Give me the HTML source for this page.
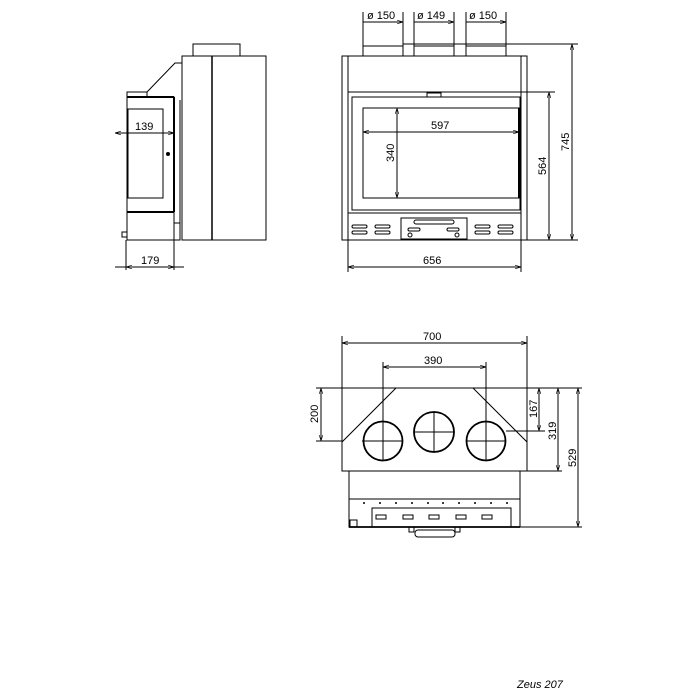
<!DOCTYPE html>
<html><head><style>body{margin:0;background:#fff}svg{display:block}text{font-family:"Liberation Sans Narrow","Liberation Sans",sans-serif;font-size:11px;fill:#000}</style></head><body>
<svg width="700" height="700" viewBox="0 0 700 700" xmlns="http://www.w3.org/2000/svg">
<defs><marker id="a" viewBox="0 0 10 10" refX="10" refY="5" markerWidth="6" markerHeight="6" orient="auto-start-reverse"><path d="M0,2 L10,5 L0,8" fill="none" stroke="#000"/></marker></defs>
<g fill="none" stroke="#000" stroke-width="1">
<!-- side view -->
<rect x="193" y="44" width="47" height="12"/>
<rect x="182" y="56" width="84" height="184"/>
<line x1="212" y1="56" x2="212" y2="240" stroke-width="1.5"/>
<polyline points="147,92 175,63 182,63"/>
<rect x="127" y="92" width="20" height="5"/>
<rect x="127" y="97" width="47" height="115"/>
<line x1="127" y1="97" x2="174" y2="97" stroke-width="2"/>
<line x1="174" y1="97" x2="174" y2="212" stroke-width="2"/>
<line x1="127" y1="212" x2="174" y2="212" stroke-width="2"/>
<rect x="128" y="109" width="35" height="89"/>
<circle cx="168" cy="154" r="1.5" fill="#000"/>
<rect x="127" y="212" width="47" height="28"/>
<line x1="180" y1="100" x2="180" y2="232"/>
<rect x="174" y="223" width="6" height="17"/>
<rect x="122" y="232" width="5" height="5"/>
<line x1="115" y1="133" x2="174" y2="133" marker-start="url(#a)" marker-end="url(#a)"/>
<line x1="126" y1="240" x2="126" y2="270"/><line x1="174" y1="240" x2="174" y2="270"/>
<line x1="115" y1="267" x2="184" y2="267"/>
<line x1="126" y1="267" x2="174" y2="267" marker-start="url(#a)" marker-end="url(#a)"/>
<!-- front view -->
<rect x="342" y="56" width="185" height="184"/>
<line x1="348" y1="56" x2="348" y2="240"/><line x1="521" y1="56" x2="521" y2="240"/>
<line x1="348" y1="92" x2="521" y2="92"/>
<rect x="363" y="46" width="40" height="10"/><rect x="414" y="46" width="40" height="10"/><rect x="466" y="46" width="40" height="10"/>
<line x1="363" y1="12" x2="363" y2="46"/><line x1="403" y1="12" x2="403" y2="46"/>
<line x1="414" y1="12" x2="414" y2="46"/><line x1="454" y1="12" x2="454" y2="46"/>
<line x1="466" y1="12" x2="466" y2="46"/><line x1="506" y1="12" x2="506" y2="46"/>
<line x1="363" y1="22" x2="403" y2="22" marker-end="url(#a)"/>
<line x1="414" y1="22" x2="454" y2="22" marker-end="url(#a)"/>
<line x1="466" y1="22" x2="506" y2="22" marker-end="url(#a)"/>
<rect x="352" y="97" width="168" height="113"/>
<rect x="363" y="108" width="156" height="90"/>
<line x1="519" y1="108" x2="519" y2="198" stroke-width="2"/>
<rect x="427" y="93" width="14" height="4"/>
<line x1="348" y1="213" x2="521" y2="213"/>
<rect x="401" y="218" width="66" height="21"/>
<rect x="414" y="220" width="40" height="4" rx="2"/>
<g>
<rect x="352" y="225" width="15" height="3" rx="1.5"/><rect x="352" y="231" width="15" height="3" rx="1.5"/>
<rect x="375" y="225" width="15" height="3" rx="1.5"/><rect x="375" y="231" width="15" height="3" rx="1.5"/>
<rect x="475" y="225" width="15" height="3" rx="1.5"/><rect x="475" y="231" width="15" height="3" rx="1.5"/>
<rect x="498" y="225" width="15" height="3" rx="1.5"/><rect x="498" y="231" width="15" height="3" rx="1.5"/>
<rect x="408" y="228" width="12" height="3" rx="1.5"/><rect x="447" y="228" width="12" height="3" rx="1.5"/>
<circle cx="410" cy="235" r="2"/><circle cx="457" cy="235" r="2"/>
</g>
<line x1="363" y1="132" x2="519" y2="132" marker-start="url(#a)" marker-end="url(#a)"/>
<line x1="397" y1="108" x2="397" y2="198" marker-start="url(#a)" marker-end="url(#a)"/>
<line x1="521" y1="92" x2="555" y2="92"/>
<line x1="549" y1="92" x2="549" y2="240" marker-start="url(#a)" marker-end="url(#a)"/>
<line x1="527" y1="240" x2="578" y2="240"/>
<line x1="403" y1="44" x2="578" y2="44"/>
<line x1="572" y1="44" x2="572" y2="240" marker-start="url(#a)" marker-end="url(#a)"/>
<line x1="348" y1="240" x2="348" y2="272"/><line x1="521" y1="240" x2="521" y2="272"/>
<line x1="348" y1="267" x2="521" y2="267" marker-start="url(#a)" marker-end="url(#a)"/>
<!-- top view -->
<line x1="342" y1="336" x2="342" y2="442"/><line x1="527" y1="336" x2="527" y2="442"/>
<line x1="342" y1="343" x2="527" y2="343" marker-start="url(#a)" marker-end="url(#a)"/>
<line x1="383" y1="362" x2="383" y2="460"/><line x1="486" y1="362" x2="486" y2="460"/>
<line x1="383" y1="367" x2="486" y2="367" marker-start="url(#a)" marker-end="url(#a)"/>
<polygon points="396,388 473,388 527,442 527,471 342,471 342,442"/>
<circle cx="383" cy="441" r="19.5" stroke-width="1.8"/>
<circle cx="434" cy="432" r="20" stroke-width="1.8"/>
<circle cx="486" cy="441" r="19.5" stroke-width="1.8"/>
<line x1="362" y1="441" x2="403" y2="441"/><line x1="414" y1="432" x2="454" y2="432"/><line x1="466" y1="441" x2="506" y2="441"/>
<line x1="434" y1="412" x2="434" y2="452"/>
<rect x="349" y="471" width="171" height="56"/>
<line x1="349" y1="499" x2="520" y2="499"/>
<line x1="349" y1="527" x2="520" y2="527" stroke-width="1.8"/>
<rect x="372" y="508" width="139" height="19"/>
<rect x="350" y="520" width="7" height="7"/>
<rect x="376" y="515" width="10" height="4"/><rect x="403" y="515" width="10" height="4"/><rect x="429" y="515" width="10" height="4"/><rect x="456" y="515" width="10" height="4"/><rect x="482" y="515" width="10" height="4"/>
<rect x="415" y="530" width="40" height="7" rx="3"/>
<rect x="409" y="527" width="5" height="5"/><rect x="455" y="527" width="5" height="5"/>
<line x1="316" y1="388" x2="396" y2="388"/><line x1="316" y1="441" x2="342" y2="441"/>
<line x1="321" y1="388" x2="321" y2="441" marker-start="url(#a)" marker-end="url(#a)"/>
<line x1="473" y1="388" x2="582" y2="388"/>
<line x1="506" y1="431" x2="545" y2="431"/><line x1="527" y1="471" x2="562" y2="471"/><line x1="520" y1="527" x2="582" y2="527"/>
<line x1="539" y1="388" x2="539" y2="431" marker-start="url(#a)" marker-end="url(#a)"/>
<line x1="558" y1="388" x2="558" y2="471" marker-start="url(#a)" marker-end="url(#a)"/>
<line x1="578" y1="388" x2="578" y2="527" marker-start="url(#a)" marker-end="url(#a)"/>
</g>
<g fill="#000">
<circle cx="364" cy="503" r="1"/><circle cx="380" cy="503" r="1"/><circle cx="396" cy="503" r="1"/><circle cx="412" cy="503" r="1"/><circle cx="428" cy="503" r="1"/><circle cx="443" cy="503" r="1"/><circle cx="459" cy="503" r="1"/><circle cx="475" cy="503" r="1"/><circle cx="491" cy="503" r="1"/><circle cx="507" cy="503" r="1"/>
</g>
<text x="135" y="130">139</text>
<text x="141" y="264">179</text>
<text x="367" y="19">ø 150</text>
<text x="417" y="19">ø 149</text>
<text x="469" y="19">ø 150</text>
<text x="431" y="129">597</text>
<text x="423" y="264">656</text>
<text transform="translate(394,162) rotate(-90)">340</text>
<text transform="translate(546,175) rotate(-90)">564</text>
<text transform="translate(569,151) rotate(-90)">745</text>
<text x="423" y="340">700</text>
<text x="424" y="364">390</text>
<text transform="translate(318,423) rotate(-90)">200</text>
<text transform="translate(537,418) rotate(-90)">167</text>
<text transform="translate(556,440) rotate(-90)">319</text>
<text transform="translate(576,467) rotate(-90)">529</text>
<text x="517" y="688" font-size="9" font-style="italic">Zeus 207</text>
</svg>
</body></html>
